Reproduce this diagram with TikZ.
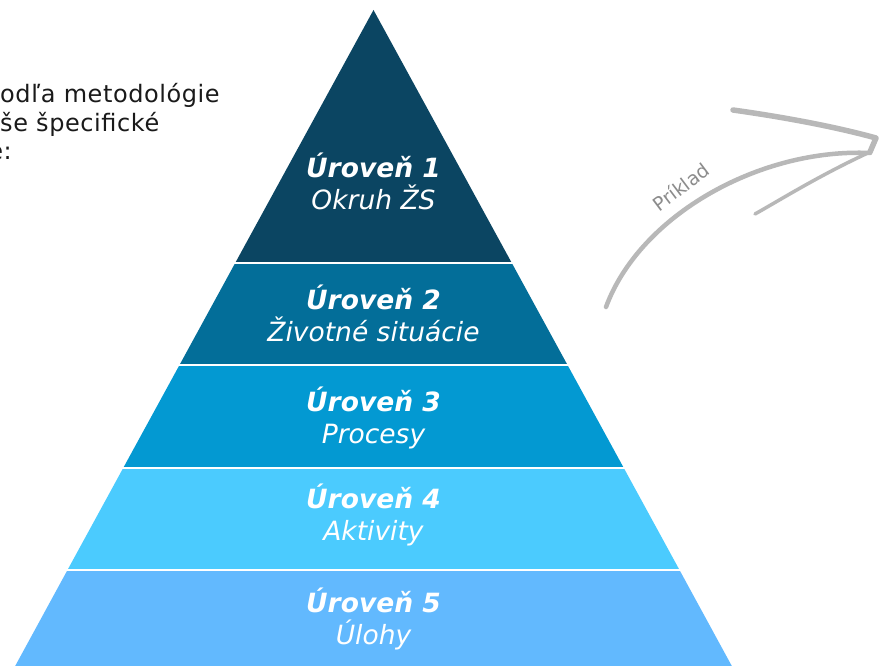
\documentclass[tikz,border=0pt]{standalone}
\usepackage{fontspec}
\setmainfont{DejaVu Sans}
\newfontfamily\introfont[LetterSpace=2.4]{DejaVu Sans}
\usetikzlibrary{calc}
\definecolor{c1}{HTML}{0B4562}
\definecolor{c2}{HTML}{036E99}
\definecolor{c3}{HTML}{0399D2}
\definecolor{c4}{HTML}{4BCBFE}
\definecolor{c5}{HTML}{62B9FE}
\definecolor{arrowgray}{HTML}{B8B8B8}
\definecolor{textgray}{HTML}{8C8C8C}
\definecolor{bodytext}{HTML}{1A1A1A}
\tikzset{
  lvl/.style={text=white, align=center, inner sep=0pt, font=\fontsize{26.5}{32}\selectfont},
  intro/.style={inner sep=0pt, text=bodytext, font=\introfont\fontsize{24}{28}\selectfont},
  sep/.style={white, line width=2pt},
  brush/.style={arrowgray, line width=4.5pt, line cap=round, line join=round},
}
\begin{document}
\begin{tikzpicture}[x=1pt,y=-1pt]
\useasboundingbox (0,0) rectangle (881,666);
\fill[white] (0,0) rectangle (881,666);
% pyramid layers
\fill[c1] (373.5,10) -- (511.8,263) -- (235.2,263) -- cycle;
\fill[c2] (235.2,263) -- (511.8,263) -- (567.5,365) -- (179.5,365) -- cycle;
\fill[c3] (179.5,365) -- (567.5,365) -- (623.8,468) -- (123.2,468) -- cycle;
\fill[c4] (123.2,468) -- (623.8,468) -- (679.5,570) -- (67.5,570) -- cycle;
\fill[c5] (67.5,570) -- (679.5,570) -- (734,670) -- (13,670) -- cycle;
\foreach \y in {263,365,468,570} \draw[sep] (0,\y) -- (881,\y);
% labels
\node[lvl] (l1) at (373.5,181) {{\bfseries\itshape Úroveň 1}\\{\itshape Okruh ŽS}};
\node[lvl] (l2) at (373.5,313) {{\bfseries\itshape Úroveň 2}\\{\itshape Životné situácie}};
\node[lvl] (l3) at (373.5,417.5) {{\bfseries\itshape Úroveň 3}\\{\itshape Procesy}};
\node[lvl] (l4) at (373.5,514.5) {{\bfseries\itshape Úroveň 4}\\{\itshape Aktivity}};
\node[lvl] (l5) at (373.5,618.5) {{\bfseries\itshape Úroveň 5}\\{\itshape Úlohy}};
% top-left text (cropped at the left edge)
\node[intro, anchor=base west] (i1) at (0,103) {odľa metodológie};
\node[intro, anchor=base west] (i2) at (0,132) {še špecifické};
\node[intro, anchor=base east] (i3) at (12,160) {e:};
% hand-drawn arrow
\coordinate (s) at (606,307);
\coordinate (t) at (870,153);
\draw[brush] (s) .. controls (640,215) and (760,148) .. (t);
\draw[brush, line width=5.5pt] (733,110) .. controls (790,118) and (840,128) .. (876,138)
  -- (870,152);
\draw[brush, line width=3.5pt] (870,152) .. controls (820,175) and (780,200) .. (755,214);
\node[text=textgray, rotate=37, inner sep=0pt, font=\fontsize{19}{19}\selectfont] (pr) at (681,187) {Príklad};
\end{tikzpicture}
\end{document}
